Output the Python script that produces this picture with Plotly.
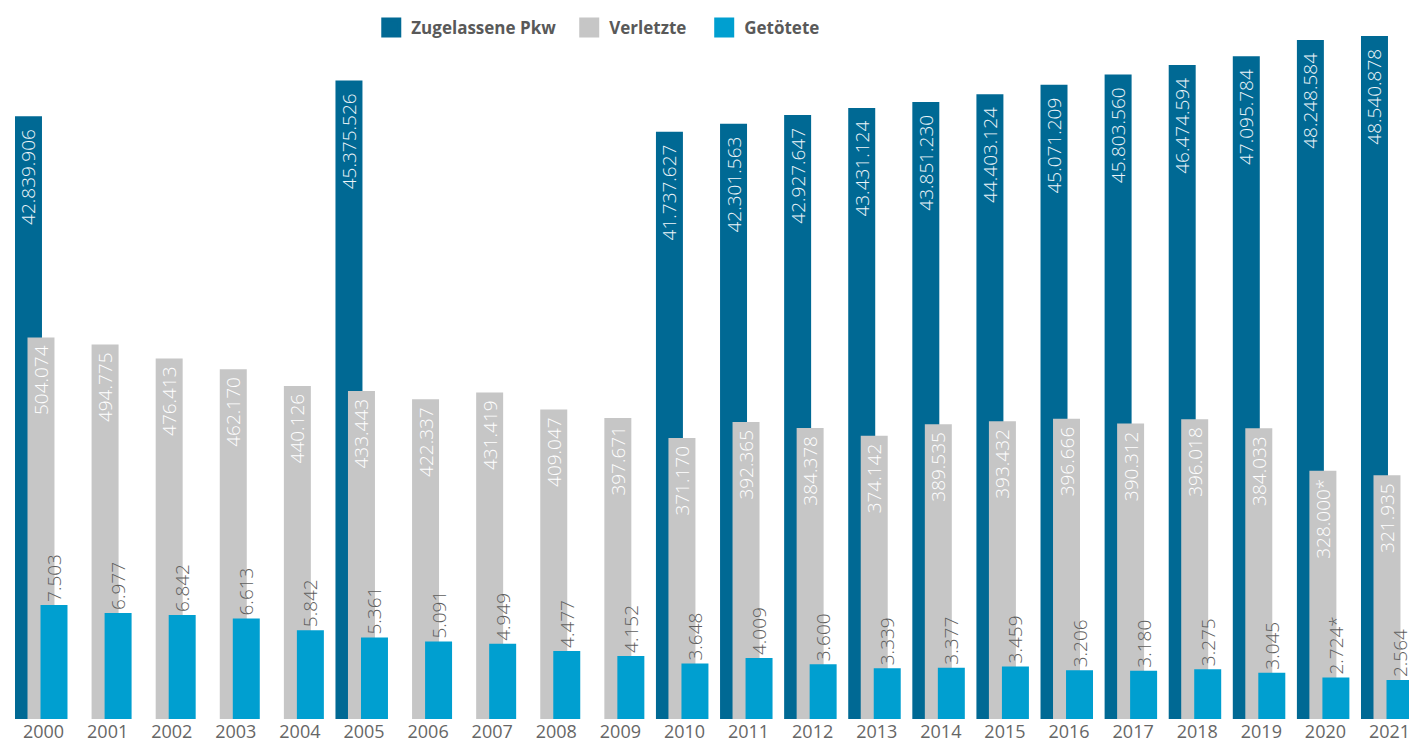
import plotly.graph_objects as go

# --- data -----------------------------------------------------------------
years = [str(y) for y in range(2000, 2022)]

pkw = [42839906, None, None, None, None, 45375526, None, None, None, None,
       41737627, 42301563, 42927647, 43431124, 43851230, 44403124,
       45071209, 45803560, 46474594, 47095784, 48248584, 48540878]

verletzte = [504074, 494775, 476413, 462170, 440126, 433443, 422337, 431419,
             409047, 397671, 371170, 392365, 384378, 374142, 389535, 393432,
             396666, 390312, 396018, 384033, 328000, 321935]

getoetete = [7503, 6977, 6842, 6613, 5842, 5361, 5091, 4949, 4477, 4152,
             3648, 4009, 3600, 3339, 3377, 3459, 3206, 3180, 3275, 3045,
             2724, 2564]

# footnote marks (preliminary figures)
marks = [""] * 20 + ["*", ""]

series_names = ["Zugelassene Pkw", "Verletzte", "Getötete"]
colors = ["#006994", "#c6c6c6", "#009fd0"]

NBSP = "\u00a0"


def de(v, mark="", pad=0):
    """German thousands separator, optional trailing gap."""
    if v is None:
        return ""
    return f"{v:,}".replace(",", ".") + mark + NBSP * pad


txt_pkw = [de(v, pad=2) for v in pkw]
txt_verl = [de(v, m, pad=1) for v, m in zip(verletzte, marks)]
txt_tote = [de(v, m) for v, m in zip(getoetete, marks)]

# --- geometry (category units) -------------------------------------------
BAR_W = 0.421
OFFS = [-0.445, -0.250, -0.047]

LABEL_FONT = dict(family="Open Sans", size=19, weight=300)

fig = go.Figure()

fig.add_trace(go.Bar(
    x=years, y=pkw, name=series_names[0], yaxis="y",
    marker=dict(color=colors[0], line=dict(width=0)),
    width=BAR_W, offset=OFFS[0],
    text=txt_pkw, textposition="inside", insidetextanchor="end",
    textangle=-90, constraintext="none",
    insidetextfont=dict(color="#eef5f9", **LABEL_FONT),
    showlegend=False, hoverinfo="skip",
))

fig.add_trace(go.Bar(
    x=years, y=verletzte, name=series_names[1], yaxis="y2",
    marker=dict(color=colors[1], line=dict(width=0)),
    width=BAR_W, offset=OFFS[1],
    text=txt_verl, textposition="inside", insidetextanchor="end",
    textangle=-90, constraintext="none",
    insidetextfont=dict(color="#ffffff", **LABEL_FONT),
    showlegend=False, hoverinfo="skip",
))

fig.add_trace(go.Bar(
    x=years, y=getoetete, name=series_names[2], yaxis="y3",
    marker=dict(color=colors[2], line=dict(width=0)),
    width=BAR_W, offset=OFFS[2],
    text=txt_tote, textposition="outside",
    textangle=-90, constraintext="none", cliponaxis=False,
    outsidetextfont=dict(color="#5e5e5e", **LABEL_FONT),
    showlegend=False, hoverinfo="skip",
))

# legend entries, one legend per series so each can be placed on its own
legend_x = [0.2635, 0.4040, 0.4998]
for i, (nm, col) in enumerate(zip(series_names, colors)):
    fig.add_trace(go.Scatter(
        x=[None], y=[None], mode="markers", name=nm,
        marker=dict(symbol="square", size=16, color=col,
                    line=dict(width=4, color=col)),
        legend="legend" if i == 0 else f"legend{i + 1}",
        showlegend=True, hoverinfo="skip",
    ))

legend_style = dict(
    orientation="h", yanchor="middle", y=0.961, xanchor="left",
    bgcolor="rgba(0,0,0,0)", borderwidth=0,
    font=dict(family="Open Sans", size=17, color="#595959", weight="bold"),
    itemwidth=30,
)

fig.update_layout(
    width=1409, height=746,
    margin=dict(l=0, r=0, t=0, b=27, pad=0),
    paper_bgcolor="white", plot_bgcolor="white",
    barmode="overlay",
    separators=",.",
    font=dict(family="Open Sans", color="#595959"),
    xaxis=dict(
        type="category", range=[-0.679, 21.304],
        showgrid=False, zeroline=False, showline=False, ticks="",
        tickfont=dict(family="Open Sans", size=18, color="#666666"),
        fixedrange=True,
    ),
    yaxis=dict(range=[0, 51.10e6], visible=False, fixedrange=True),
    yaxis2=dict(range=[0, 950000], visible=False, overlaying="y",
                fixedrange=True),
    yaxis3=dict(range=[0, 47300], visible=False, overlaying="y",
                fixedrange=True),
    legend=dict(x=legend_x[0], **legend_style),
    legend2=dict(x=legend_x[1], **legend_style),
    legend3=dict(x=legend_x[2], **legend_style),
)

fig.write_html("out.html")
